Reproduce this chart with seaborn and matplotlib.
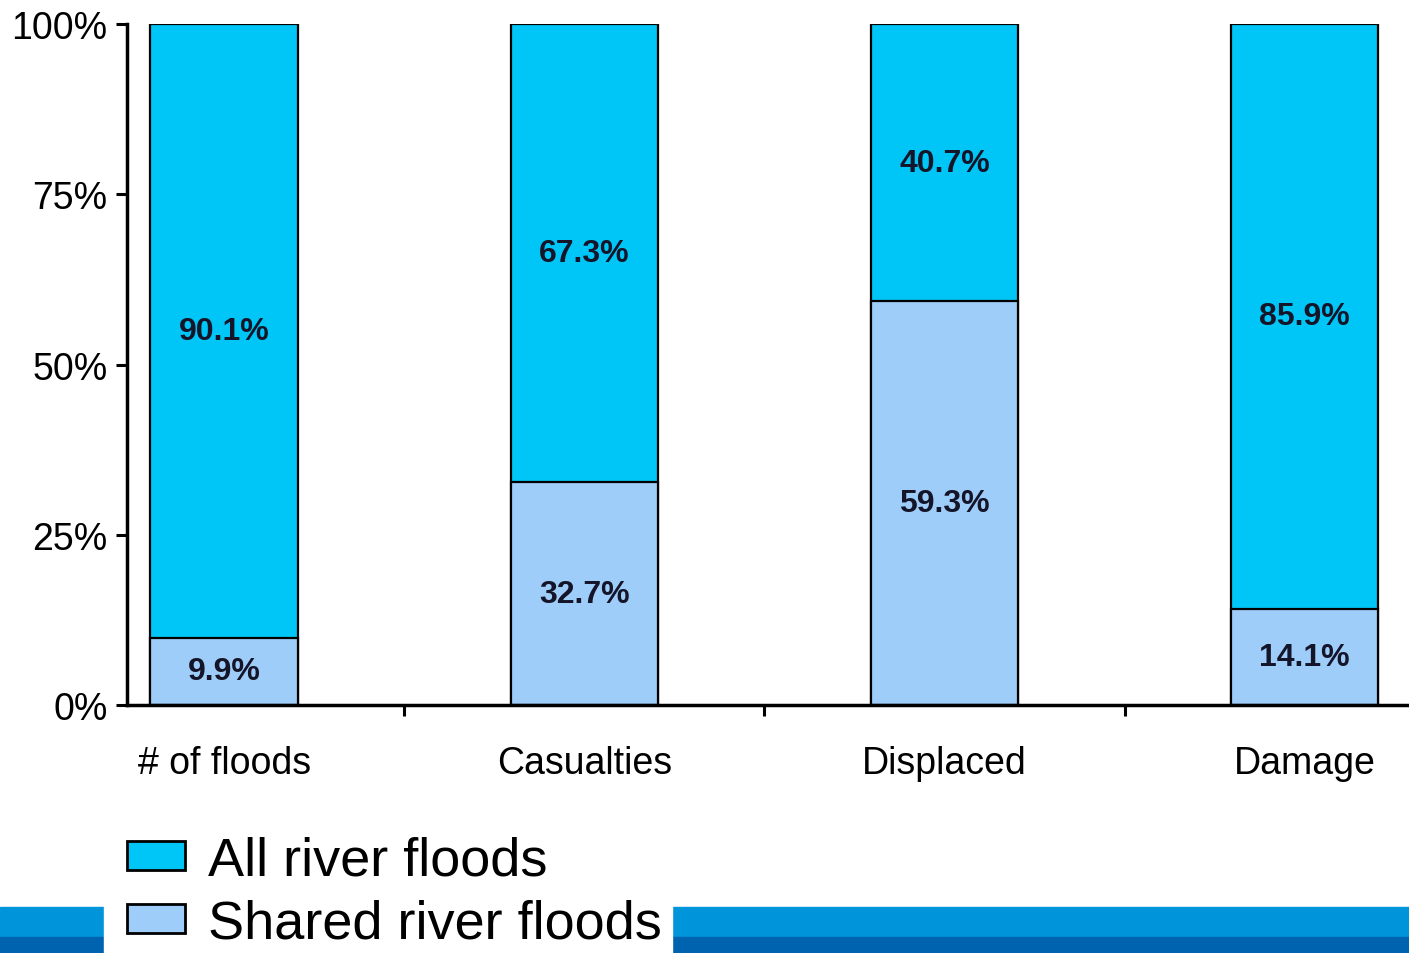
import numpy as np
import pandas as pd
import matplotlib.pyplot as plt
import seaborn as sns
from matplotlib.patches import Patch, Rectangle
from matplotlib.ticker import FixedLocator

CATEGORIES = ['# of floods', 'Casualties', 'Displaced', 'Damage']
ALL_PCT = [90.1, 67.3, 40.7, 85.9]
SHARED_PCT = [9.9, 32.7, 59.3, 14.1]
Y_TICKS = [0, 25, 50, 75, 100]
SERIES = ['All river floods', 'Shared river floods']

C_ALL = '#00C6F7'
C_SHARED = '#9FCDFA'
TEXT_DARK = '#15152a'

sns.set_style('ticks')
plt.rcParams['font.family'] = ['Liberation Sans', 'DejaVu Sans']
plt.rcParams['text.color'] = 'black'
plt.rcParams['xtick.color'] = 'black'
plt.rcParams['ytick.color'] = 'black'

df = pd.DataFrame({'category': CATEGORIES, 'all': ALL_PCT, 'shared': SHARED_PCT})
df['total'] = df['all'] + df['shared']

fig = plt.figure(figsize=(14.09, 9.54), dpi=100)
ax = fig.add_axes([127 / 1409, 1 - 706 / 954, 1 - 127 / 1409, (706 - 25) / 954])

# stacked look: full bar first, shared part drawn over it
sns.barplot(data=df, x='category', y='total', color=C_ALL, width=0.41,
            edgecolor='black', linewidth=1.6, saturation=1, ax=ax)
sns.barplot(data=df, x='category', y='shared', color=C_SHARED, width=0.41,
            edgecolor='black', linewidth=1.6, saturation=1, ax=ax)

shared_bars = ax.containers[1]
ax.bar_label(shared_bars, labels=[f'{v}%' for v in SHARED_PCT], label_type='center',
             fontsize=23, fontweight='bold', color=TEXT_DARK)
for i, (s, a) in enumerate(zip(SHARED_PCT, ALL_PCT)):
    ax.text(i, s + a / 2, f'{a}%', ha='center', va='center',
            fontsize=23, fontweight='bold', color=TEXT_DARK)

ax.set_xlim(-0.27, 3.29)
ax.set_ylim(0, 100)
ax.set_yticks(Y_TICKS)
ax.set_yticklabels([f'{t}%' for t in Y_TICKS])
ax.set_xlabel('')
ax.set_ylabel('')

for side in ['top', 'right']:
    ax.spines[side].set_visible(False)
for side in ['left', 'bottom']:
    ax.spines[side].set_linewidth(2.5)
    ax.spines[side].set_color('black')

ax.tick_params(axis='y', direction='out', length=8, width=2.2, labelsize=27, pad=6,
               colors='black')
ax.tick_params(axis='x', which='major', length=0, labelsize=27, pad=29, colors='black')
ax.xaxis.set_minor_locator(FixedLocator([0.5, 1.5, 2.5]))
ax.tick_params(axis='x', which='minor', direction='out', length=8, width=2.2, colors='black')

# blue band along the bottom edge
fig.patches.append(Rectangle((0, 0), 1, 46 / 954, transform=fig.transFigure,
                             color='#0094DA', zorder=0))
fig.patches.append(Rectangle((0, 0), 1, 16 / 954, transform=fig.transFigure,
                             color='#0063B0', zorder=0))
fig.patches.append(Rectangle((104 / 1409, 0), (672 - 104) / 1409, 120 / 954,
                             transform=fig.transFigure, color='white', zorder=1))

handles = [Patch(facecolor=C_ALL, edgecolor='black', linewidth=2),
           Patch(facecolor=C_SHARED, edgecolor='black', linewidth=2)]
leg = fig.legend(handles, SERIES, loc='upper left',
                 bbox_to_anchor=(127 / 1409, 1 - 837 / 954),
                 frameon=False, fontsize=39, borderpad=0, borderaxespad=0,
                 handlelength=1.07, handleheight=0.45, handletextpad=0.42,
                 labelspacing=0.24)
for t in leg.get_texts():
    t.set_color('black')
leg.set_zorder(5)

fig.savefig('out.png', dpi=100)
